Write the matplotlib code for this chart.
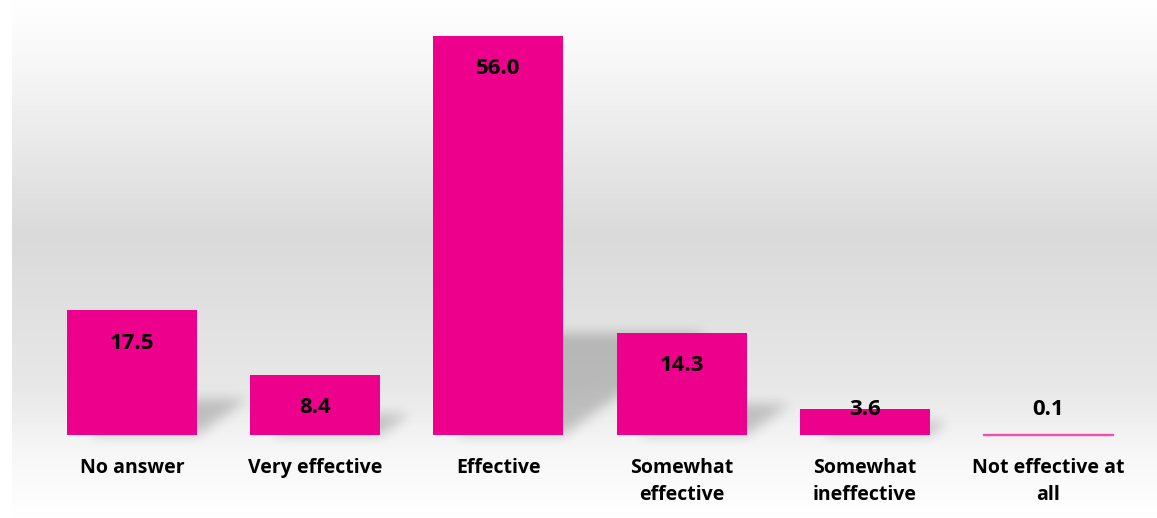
import matplotlib.pyplot as plt
import numpy as np

# Survey answers and percentages
categories = ['No answer', 'Very effective', 'Effective',
              'Somewhat\neffective', 'Somewhat\nineffective', 'Not effective at\nall']
values = [17.5, 8.4, 56.0, 14.3, 3.6, 0.1]

bar_color = '#EC008C'
font = ['Open Sans', 'DejaVu Sans']

W, H = 1157, 518
fig = plt.figure(figsize=(W / 100, H / 100), dpi=100)

# Gradient backdrop (white -> grey -> white), starts a little in from the left
bg = fig.add_axes([12 / W, 0, 1 - 12 / W, 1])
stops_y = [0.0, 0.12, 0.45, 0.75, 0.88, 1.0]
stops_c = [1.0, 0.97, 0.855, 0.91, 0.97, 1.0]
yy = np.linspace(0, 1, 300)
shade = np.interp(yy, stops_y, stops_c)
img = np.repeat(shade[:, None], 2, axis=1)
bg.imshow(np.dstack([img, img, img]), aspect='auto', extent=(0, 1, 1, 0))
bg.set_axis_off()

ax = fig.add_axes([0, 0, 1, 1])
ax.patch.set_alpha(0)
x = np.arange(len(categories))
width = 0.71
xlim = (-132 / 183, 5 + 109 / 183)
ylim = (-83 / 7.125, (518 - 83) / 7.125)
ax.set_xlim(*xlim)
ax.set_ylim(*ylim)

# soft shadow layer behind the bars, built in pixel space then blurred
px, py = np.meshgrid(np.arange(W), np.arange(H)[::-1])
mask = np.zeros((H, W))
to_px = lambda v, lo, hi, n: (v - lo) / (hi - lo) * n
base = to_px(0, *ylim, H)
for xi, v in zip(x, values):
    top = to_px(v, *ylim, H) - base
    if top < 5:
        continue
    right = to_px(xi + width / 2, *xlim, W)
    left = to_px(xi - width / 2, *xlim, W) + 25
    sh = 0.24 * top + 6
    dy = py - base
    inside = (dy >= 0) & (dy <= sh) & (px >= left) & (px <= right + 1.4 * dy)
    mask[inside] = 1.0


def blur(a, r):
    k = np.exp(-0.5 * (np.arange(-3 * r, 3 * r + 1) / r) ** 2)
    k /= k.sum()
    a = np.apply_along_axis(lambda m: np.convolve(m, k, mode='same'), 0, a)
    return np.apply_along_axis(lambda m: np.convolve(m, k, mode='same'), 1, a)


mask = blur(mask, 6) * 0.2
rgba = np.zeros((H, W, 4))
rgba[..., 3] = mask
ax.imshow(rgba, extent=(*xlim, *ylim), aspect='auto', zorder=1,
          origin='upper', interpolation='bilinear')

bars = ax.bar(x, values, width=width, color=bar_color, zorder=2)
bars[-1].set_edgecolor('#F24DB0')
bars[-1].set_linewidth(1.0)

for xi, v in zip(x, values):
    ax.text(xi, max(v - 4.6, 3.6), f'{v:.1f}', ha='center', va='center',
            fontsize=16, fontweight='bold', family=font, color='black', zorder=3)
    ax.text(xi, -3.2, categories[xi], ha='center', va='top', fontsize=14,
            fontweight='bold', family=font, color='black', linespacing=1.5)

ax.set_xlim(*xlim)
ax.set_ylim(*ylim)
ax.set_axis_off()

fig.savefig('out.png', dpi=100)
